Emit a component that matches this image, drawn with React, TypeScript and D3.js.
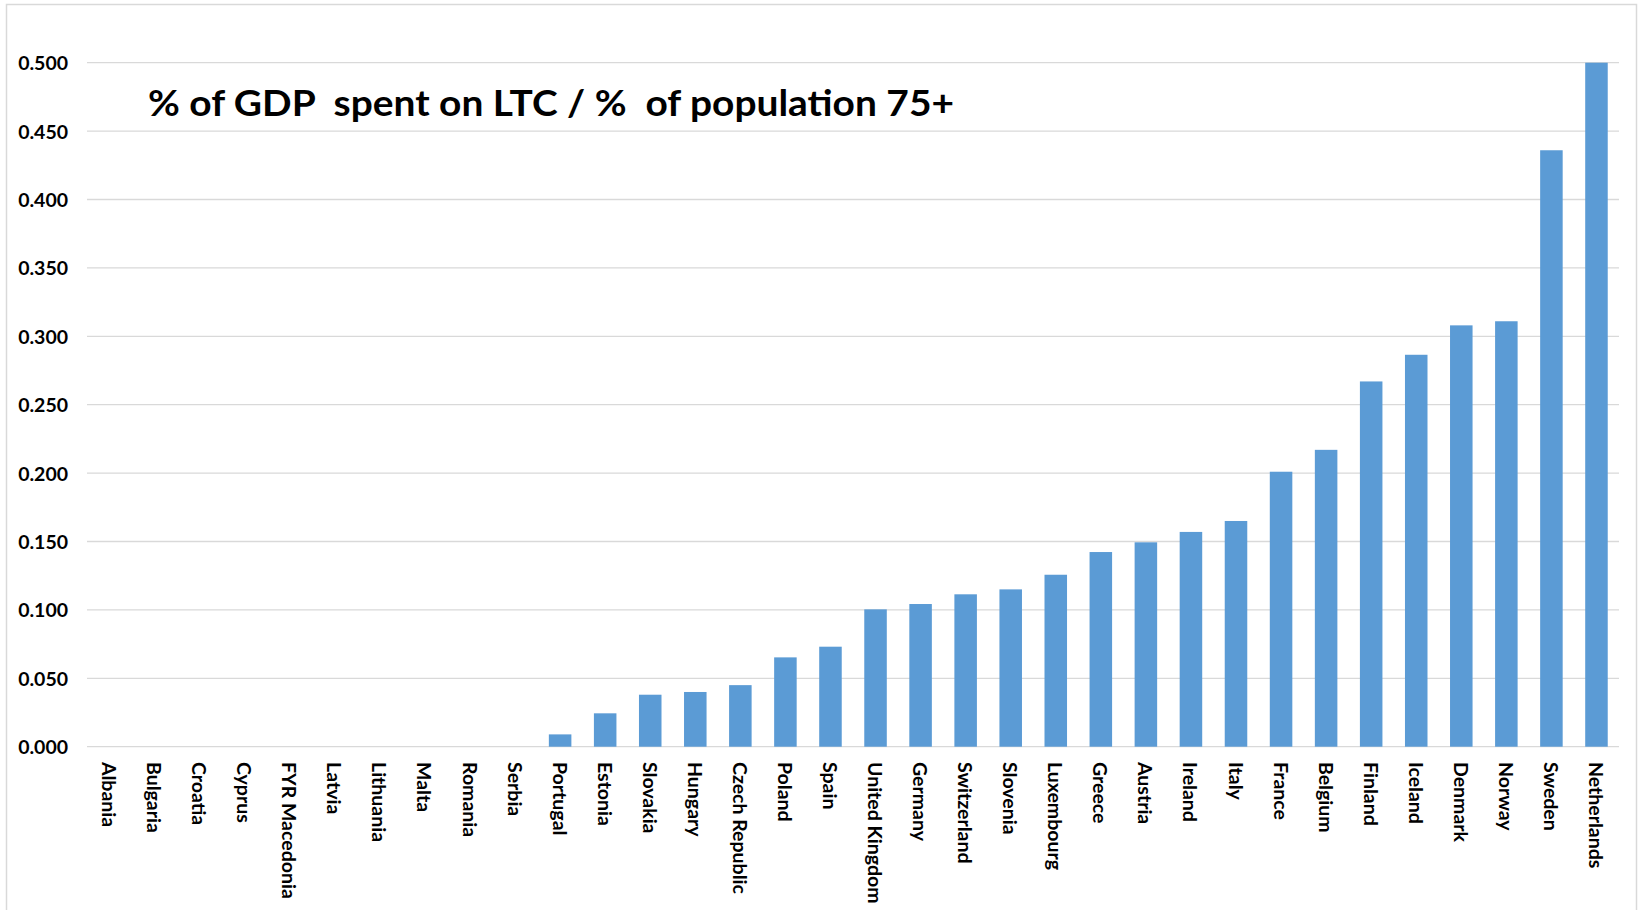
import React from "react";
import * as d3 from "d3";

const countries: string[] = [
  "Albania", "Bulgaria", "Croatia", "Cyprus", "FYR Macedonia", "Latvia", "Lithuania", "Malta",
  "Romania", "Serbia", "Portugal", "Estonia", "Slovakia", "Hungary", "Czech Republic", "Poland",
  "Spain", "United Kingdom", "Germany", "Switzerland", "Slovenia", "Luxembourg", "Greece", "Austria",
  "Ireland", "Italy", "France", "Belgium", "Finland", "Iceland", "Denmark", "Norway", "Sweden", "Netherlands",
];

const values: number[] = [
  0, 0, 0, 0, 0, 0, 0, 0,
  0, 0, 0.009, 0.0244, 0.038, 0.040, 0.045, 0.0653,
  0.0731, 0.1004, 0.1043, 0.1114, 0.115, 0.1257, 0.1423, 0.1494,
  0.157, 0.165, 0.201, 0.217, 0.267, 0.2865, 0.308, 0.311, 0.436, 0.500,
];

const yTicks: number[] = [0, 0.05, 0.1, 0.15, 0.2, 0.25, 0.3, 0.35, 0.4, 0.45, 0.5];

const title = "% of GDP  spent on LTC / %  of population 75+";

const W = 1638;
const H = 910;
const plotLeft = 87;
const plotRight = 1619;
const yZero = 746.7;
const yTop = 62.7;

export default function App() {
  const x = d3.scaleBand<string>().domain(countries).range([plotLeft, plotRight]).paddingInner(0.5).paddingOuter(0.25);
  const y = d3.scaleLinear().domain([0, 0.5]).range([yZero, yTop]);
  const font = "Lato, 'Open Sans', sans-serif";

  return (
    <svg width={W} height={H} style={{ position: "absolute", left: 0, top: 0 }} fontFamily={font}>
      <rect x={0} y={0} width={W} height={H} fill="#fff" />
      <rect x={6.5} y={4.5} width={1630} height={930} fill="none" stroke="#D9D9D9" strokeWidth={1.5} />
      {yTicks.map((t) => (
        <line key={"g" + t} x1={plotLeft} x2={plotRight} y1={y(t)} y2={y(t)} stroke="#D9D9D9" strokeWidth={1.3} />
      ))}
      {yTicks.map((t) => (
        <text key={"t" + t} x={68} y={y(t)} textAnchor="end" dominantBaseline="central" fontSize={19.5} fontWeight="bold" fill="#000">
          {d3.format(".3f")(t)}
        </text>
      ))}
      {countries.map((c, i) => (
        <rect key={c} x={x(c)} y={y(values[i])} width={x.bandwidth()} height={yZero - y(values[i])} fill="#5B9BD5" />
      ))}
      {countries.map((c) => (
        <text key={"l" + c} transform={`translate(${(x(c) as number) + x.bandwidth() / 2},762) rotate(90)`} textAnchor="start" dominantBaseline="central" fontSize={19.5} fontWeight="bold" fill="#000">
          {c}
        </text>
      ))}
      <text x={148} y={116} fontSize={37} fontWeight="bold" fill="#000" textLength={806} lengthAdjust="spacingAndGlyphs" style={{ whiteSpace: "pre" }}>
        {title}
      </text>
    </svg>
  );
}
